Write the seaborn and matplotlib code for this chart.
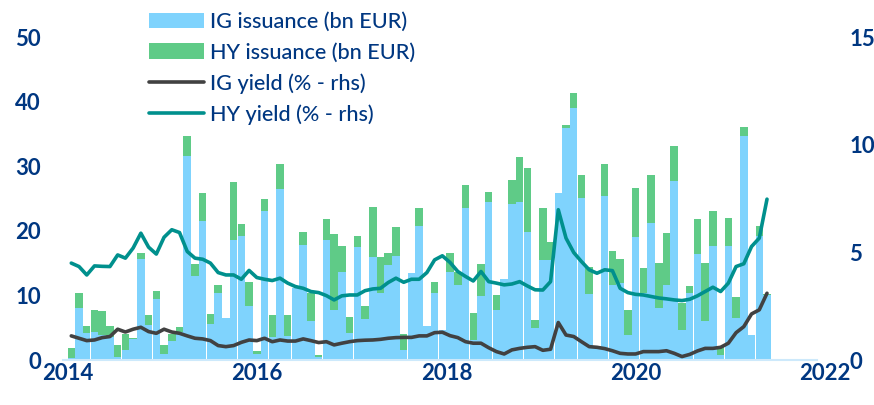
import numpy as np
import pandas as pd
import matplotlib
matplotlib.use('Agg')
import matplotlib.pyplot as plt
import seaborn as sns

# Monthly corporate bond issuance (bn EUR)
ig_issuance = [0.3, 8.0, 4.2, 4.3, 3.8, 3.5, 0.4, 1.5, 3.3, 15.6, 5.4, 9.5, 1.0, 3.0, 4.4,
               31.6, 13.0, 21.5, 5.5, 10.4, 6.5, 18.6, 19.2, 8.4, 0.9, 23.1, 3.6, 26.4, 3.7, 11.1,
               17.8, 6.0, 0.5, 18.6, 7.8, 13.7, 4.2, 17.5, 6.3, 16.0, 10.3, 14.7, 16.1, 1.5, 13.4,
               20.7, 5.3, 10.3, 4.6, 13.7, 11.6, 23.6, 3.1, 9.9, 24.4, 7.8, 12.6, 24.1, 24.4, 19.8,
               4.9, 15.5, 15.5, 25.8, 35.9, 39.0, 25.1, 10.2, 2.2, 25.4, 11.6, 11.9, 3.9, 19.1, 10.3,
               21.2, 8.0, 11.6, 27.7, 4.6, 10.4, 16.4, 6.1, 17.6, 0.7, 17.6, 6.5, 34.7, 3.9, 19.2,
               10.0]
hy_issuance = [1.5, 2.3, 1.1, 3.4, 3.8, 1.7, 1.9, 2.6, 0.1, 0.9, 1.5, 1.2, 1.3, 1.0, 0.7,
               3.1, 1.9, 4.4, 1.6, 1.2, 0.0, 9.0, 1.9, 3.6, 0.5, 1.8, 3.4, 3.9, 3.3, 0.0,
               2.0, 4.3, 0.3, 3.2, 11.7, 3.9, 2.5, 1.7, 2.0, 7.7, 5.7, 1.8, 4.5, 2.6, 0.0,
               2.9, 0.0, 1.7, 0.0, 2.8, 2.1, 3.5, 4.1, 5.0, 1.6, 2.3, 0.0, 3.8, 7.1, 9.9,
               1.3, 8.1, 2.7, 0.0, 0.5, 2.4, 3.6, 4.2, 0.0, 5.0, 5.2, 3.7, 3.8, 7.5, 4.0,
               7.5, 7.0, 8.0, 5.5, 4.2, 1.1, 5.5, 8.9, 5.5, 1.3, 4.4, 3.3, 1.4, 0.0, 1.5,
               0.2]

# Yields (%), right hand scale
ig_yield = [1.12, 1.01, 0.90, 0.93, 1.04, 1.09, 1.43, 1.30, 1.43, 1.52, 1.32, 1.24, 1.43, 1.30, 1.24,
            1.12, 1.01, 0.98, 0.90, 0.67, 0.62, 0.67, 0.82, 0.93, 0.90, 1.01, 0.85, 0.93, 0.88, 0.88,
            0.98, 0.90, 0.81, 0.85, 0.70, 0.78, 0.85, 0.90, 0.92, 0.93, 0.96, 1.01, 1.04, 1.05, 1.05,
            1.12, 1.12, 1.27, 1.29, 1.13, 1.04, 0.85, 0.78, 0.78, 0.57, 0.39, 0.28, 0.47, 0.54, 0.59,
            0.62, 0.45, 0.50, 1.74, 1.16, 1.09, 0.85, 0.62, 0.59, 0.53, 0.43, 0.31, 0.28, 0.28, 0.39,
            0.39, 0.39, 0.43, 0.31, 0.16, 0.26, 0.42, 0.54, 0.54, 0.59, 0.78, 1.27, 1.55, 2.14, 2.33,
            3.10]
hy_yield = [4.50, 4.34, 3.95, 4.37, 4.35, 4.34, 4.88, 4.73, 5.20, 5.89, 5.24, 4.92, 5.70, 6.05, 5.92,
            5.04, 4.73, 4.68, 4.50, 4.06, 3.95, 3.95, 3.75, 4.16, 3.83, 3.75, 3.69, 3.80, 3.57, 3.41,
            3.33, 3.18, 3.13, 2.99, 2.79, 2.98, 3.02, 3.02, 3.22, 3.30, 3.33, 3.60, 3.80, 3.61, 3.75,
            3.75, 4.06, 4.65, 4.84, 4.53, 4.11, 3.88, 3.67, 4.11, 3.64, 3.57, 3.49, 3.53, 3.64, 3.44,
            3.26, 3.25, 3.64, 6.98, 5.66, 4.99, 4.57, 4.19, 4.03, 4.19, 4.15, 3.33, 3.13, 3.05, 3.02,
            2.95, 2.88, 2.84, 2.79, 2.76, 2.82, 2.98, 3.18, 3.38, 3.18, 3.57, 4.34, 4.47, 5.27, 5.66,
            7.47]

year_labels = ['2014', '2016', '2018', '2020', '2022']

NAVY = '#003781'
IG_BLUE = '#7fd3fd'
HY_GREEN = '#5fcb87'
IG_LINE = '#414141'
HY_LINE = '#00908d'

sns.set_style('white')
plt.rcParams['font.family'] = ['Lato', 'DejaVu Sans']

df = pd.DataFrame({
    'month': np.arange(len(ig_issuance)),
    'ig': ig_issuance,
    'hy': hy_issuance,
    'ig_yield': ig_yield,
    'hy_yield': hy_yield,
})
df['total'] = df['ig'] + df['hy']

fig = plt.figure(figsize=(8.74, 4.05), dpi=100)
ax = fig.add_axes([0.0721, 0.1111, 0.8727, 0.7975])

# stacked bars: total drawn in green, IG drawn on top in blue
sns.barplot(data=df, x='month', y='total', color=HY_GREEN, saturation=1, width=0.97,
            errorbar=None, linewidth=0, ax=ax, label='HY issuance (bn EUR)')
sns.barplot(data=df, x='month', y='ig', color=IG_BLUE, saturation=1, width=0.97,
            errorbar=None, linewidth=0, ax=ax, label='IG issuance (bn EUR)')

ax2 = ax.twinx()
sns.lineplot(data=df, x='month', y='ig_yield', color=IG_LINE, linewidth=2.6, ax=ax2,
             label='IG yield (% - rhs)')
sns.lineplot(data=df, x='month', y='hy_yield', color=HY_LINE, linewidth=2.6, ax=ax2,
             label='HY yield (% - rhs)')

for a in (ax, ax2):
    if a.get_legend() is not None:
        a.get_legend().remove()
    a.set_xlabel('')
    a.set_ylabel('')
    for s in a.spines.values():
        s.set_visible(False)

ax.set_xlim(-1.07, 97.6)
ax.set_ylim(0, 50)
ax2.set_ylim(0, 15)
ax.set_yticks([0, 10, 20, 30, 40, 50])
ax2.set_yticks([0, 5, 10, 15])
ax.set_xticks(np.linspace(-0.45, 97.5, 5))
ax.set_xticklabels(year_labels)

ax.spines['bottom'].set_visible(True)
ax.spines['bottom'].set_color('#cde9fb')
ax.spines['bottom'].set_linewidth(1.5)
ax.spines['bottom'].set_bounds(-1.07, 96.5)

ax.tick_params(axis='y', length=0, pad=16, labelsize=16, labelcolor=NAVY)
ax.tick_params(axis='x', length=0, pad=2, labelsize=16, labelcolor=NAVY)
ax2.tick_params(axis='y', length=0, pad=17, labelsize=16, labelcolor=NAVY)
for lab in ax.get_xticklabels() + ax.get_yticklabels() + ax2.get_yticklabels():
    lab.set_fontweight('bold')

h1, l1 = ax.get_legend_handles_labels()
h2, l2 = ax2.get_legend_handles_labels()
handles = [h1[1], h1[0]] + h2
labels = [l1[1], l1[0]] + l2
fig.legend(handles, labels, loc='upper left', bbox_to_anchor=(0.171, 0.970), frameon=False,
           prop={'size': 15.6, 'weight': 'medium'}, labelcolor=NAVY, handlelength=2.5,
           handleheight=0.72, handletextpad=0.3, labelspacing=0.48, borderpad=0,
           borderaxespad=0)

fig.savefig('out.png', dpi=100)
